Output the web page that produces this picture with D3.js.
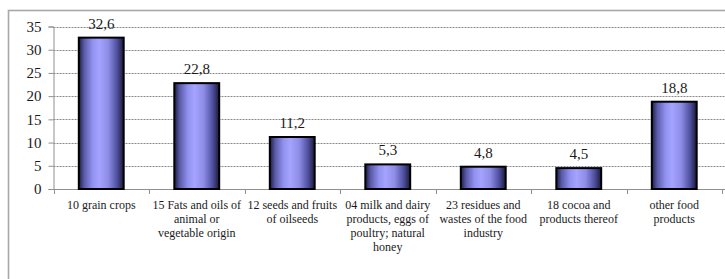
<!DOCTYPE html>
<html><head><meta charset="utf-8">
<script src="https://cdn.jsdelivr.net/npm/d3@7/dist/d3.min.js"></script>
<style>
html,body{margin:0;padding:0;background:#fff;}
svg{display:block;}
</style></head>
<body>
<script>
const categories = ["10 grain crops","15 Fats and oils of animal or vegetable origin","12 seeds and fruits of oilseeds","04 milk and dairy products, eggs of poultry; natural honey","23 residues and wastes of the food industry","18 cocoa and products thereof","other food products"];
const categoryLines = [
  ["10 grain crops"],
  ["15 Fats and oils of","animal or","vegetable origin"],
  ["12 seeds and fruits","of oilseeds"],
  ["04 milk and dairy","products, eggs of","poultry; natural","honey"],
  ["23 residues and","wastes of the food","industry"],
  ["18 cocoa and","products thereof"],
  ["other food","products"]
];
const values = [32.6, 22.8, 11.2, 5.3, 4.8, 4.5, 18.8];
const yTicks = [0,5,10,15,20,25,30,35];

const FONT = "Liberation Serif";
const W = 725, H = 279;
const svg = d3.select("body").append("svg").attr("width",W).attr("height",H);

// gradient
const defs = svg.append("defs");
const grad = defs.append("linearGradient").attr("id","barGrad").attr("x1","0%").attr("x2","100%").attr("y1","0%").attr("y2","0%");
[[0,"#1c1c44"],[0.12,"#5a5aa8"],[0.3,"#9090ee"],[0.45,"#a4a4ff"],[0.65,"#8e8ee8"],[0.85,"#5050a0"],[1,"#1a1a3a"]].forEach(([o,c])=>grad.append("stop").attr("offset",o).attr("stop-color",c));

// outer frame
svg.append("rect").attr("x",8.5).attr("y",10.5).attr("width",900).attr("height",400)
  .attr("fill","none").attr("stroke","#a8a8a8").attr("stroke-width",1.6);

const x = d3.scaleBand().domain(categories).range([53.5,722]).padding(0);
const y = d3.scaleLinear().domain([0,35]).range([189,26.5]);

// gridlines
svg.append("g").selectAll("line").data(yTicks.filter(d=>d>0)).join("line")
  .attr("x1",53.5).attr("x2",W).attr("y1",d=>Math.round(y(d))+0.5).attr("y2",d=>Math.round(y(d))+0.5)
  .attr("stroke","#8a8a8a").attr("stroke-width",1).attr("stroke-dasharray","2,1");

// y axis
const yAxis = svg.append("g").attr("transform","translate(53.5,0)")
  .call(d3.axisLeft(y).tickValues(yTicks).tickSize(5).tickPadding(7).tickFormat(d3.format("d")));
yAxis.attr("font-family",FONT).attr("font-size",15);
yAxis.select(".domain").attr("stroke","#909090");
yAxis.selectAll(".tick line").attr("stroke","#909090");
yAxis.selectAll(".tick text").attr("font-family",FONT).attr("font-size",15).attr("fill","#1a1a1a");

// x axis
const xg = svg.append("g");
xg.append("line").attr("x1",53.5).attr("x2",W).attr("y1",189.5).attr("y2",189.5).attr("stroke","#909090");
const bounds = categories.map(c=>x(c)).concat([x(categories[categories.length-1])+x.bandwidth()]);
xg.selectAll("line.t").data(bounds).join("line").attr("class","t")
  .attr("x1",d=>Math.round(d)+0.5).attr("x2",d=>Math.round(d)+0.5).attr("y1",189.5).attr("y2",194)
  .attr("stroke","#909090");

// bars
const bw = x.bandwidth()*0.47;
svg.append("g").selectAll("rect").data(values).join("rect")
  .attr("x",(d,i)=>x(categories[i])+x.bandwidth()/2-bw/2)
  .attr("y",d=>y(d))
  .attr("width",bw)
  .attr("height",d=>y(0)-y(d))
  .attr("fill","url(#barGrad)")
  .attr("stroke","#000").attr("stroke-width",2);

// value labels
const fmt = v => d3.format(".1f")(v).replace(".",",");
svg.append("g").selectAll("text").data(values).join("text")
  .attr("x",(d,i)=>x(categories[i])+x.bandwidth()/2)
  .attr("y",d=>y(d)-9)
  .attr("text-anchor","middle").attr("font-size",15).attr("font-family",FONT).attr("fill","#1a1a1a")
  .text(d=>fmt(d));

// category labels
const lg = svg.append("g");
categoryLines.forEach((lines,i)=>{
  const t = lg.append("text").attr("text-anchor","middle").attr("font-size",12).attr("font-family",FONT).attr("fill","#1a1a1a")
    .attr("x",x(categories[i])+x.bandwidth()/2).attr("y",208.5);
  lines.forEach((l,j)=>t.append("tspan").attr("x",x(categories[i])+x.bandwidth()/2).attr("dy",j===0?0:14.2).text(l));
});
</script>
</body></html>
